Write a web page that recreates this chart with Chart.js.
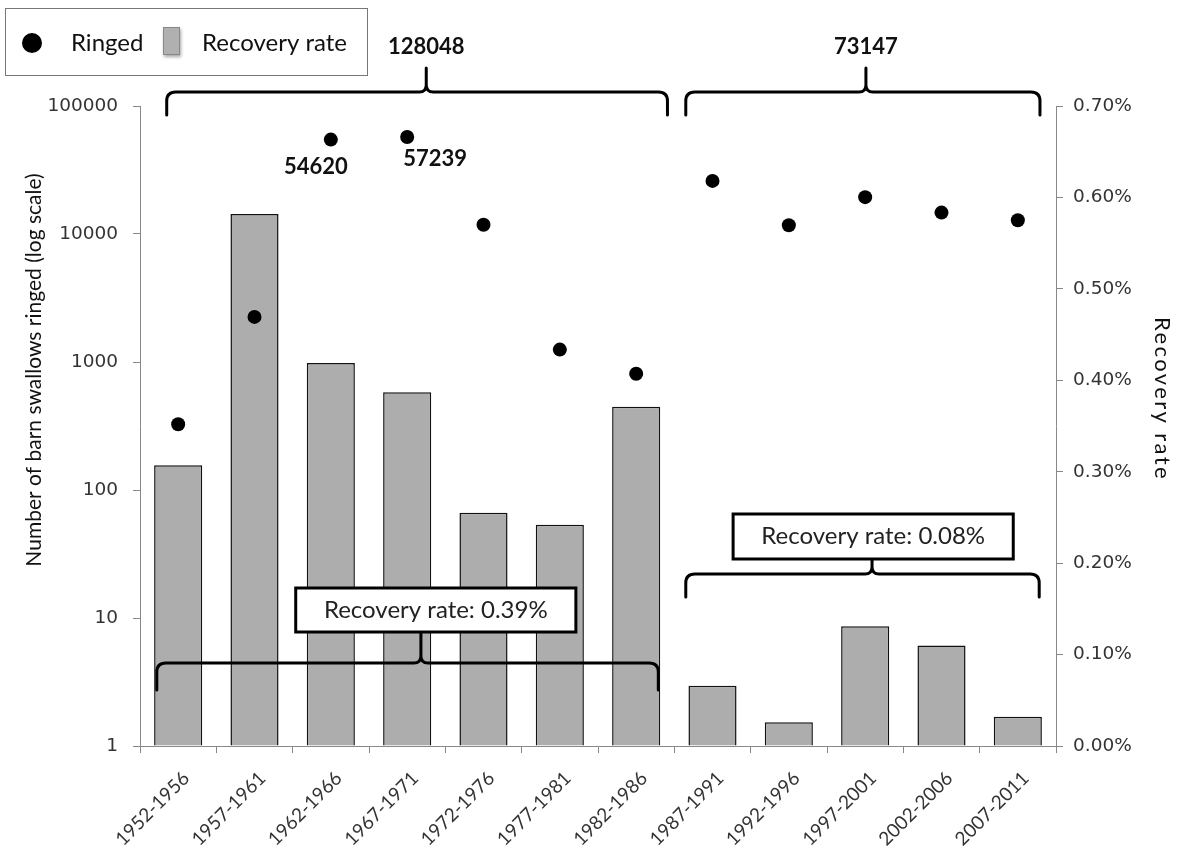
<!DOCTYPE html>
<html>
<head>
<meta charset="utf-8">
<script src="https://cdn.jsdelivr.net/npm/chart.js@4.4.1/dist/chart.umd.min.js"></script>
<style>
html,body{margin:0;padding:0;background:#ffffff;}
#wrap{width:1187px;height:852px;position:relative;}
</style>
</head>
<body>
<div id="wrap"><canvas id="c" width="1187" height="852"></canvas></div>
<script>
// ---- data ----
const categories = ['1952-1956','1957-1961','1962-1966','1967-1971','1972-1976','1977-1981','1982-1986','1987-1991','1992-1996','1997-2001','2002-2006','2007-2011'];
const ringed = [326, 2250, 54620, 57239, 11800, 1250, 810, 26000, 11700, 19400, 14700, 12800];
const recoveryRate = [0.307, 0.582, 0.419, 0.387, 0.255, 0.242, 0.371, 0.066, 0.026, 0.131, 0.110, 0.032]; // percent
const ringedTicks = [1, 10, 100, 1000, 10000, 100000];
const rateTicks = [0, 0.1, 0.2, 0.3, 0.4, 0.5, 0.6, 0.7];
const periodTotals = ['128048', '73147'];
const periodRates = ['Recovery rate: 0.39%', 'Recovery rate: 0.08%'];
const labelledPoints = [2, 3];

const FONT = 'Lato';
const TICKFONT = 'DejaVu Sans';

function drawBrace(ctx, x0, x1, tipX, yLine, yEnd, yTip) {
  const r = 9, r2 = 7;
  ctx.beginPath();
  ctx.moveTo(x0, yEnd);
  ctx.lineTo(x0, yLine + r);
  ctx.quadraticCurveTo(x0, yLine, x0 + r, yLine);
  ctx.lineTo(tipX - r2, yLine);
  ctx.quadraticCurveTo(tipX, yLine, tipX, yLine - r2);
  ctx.lineTo(tipX, yTip);
  ctx.moveTo(tipX, yLine - r2);
  ctx.quadraticCurveTo(tipX, yLine, tipX + r2, yLine);
  ctx.lineTo(x1 - r, yLine);
  ctx.quadraticCurveTo(x1, yLine, x1, yLine + r);
  ctx.lineTo(x1, yEnd);
  ctx.stroke();
}

const annotations = {
  id: 'annotations',
  afterDatasetsDraw(chart) {
    const ctx = chart.ctx;
    const xs = chart.scales.x, ys = chart.scales.y;
    const {top, bottom} = chart.chartArea;
    const x0p = xs.getPixelForValue(0);
    const w = xs.getPixelForValue(1) - x0p;
    const fx = f => x0p + f * w;
    ctx.save();
    ctx.strokeStyle = '#000';
    ctx.lineWidth = 3;
    ctx.lineCap = 'round';
    ctx.lineJoin = 'round';
    // top braces
    drawBrace(ctx, fx(-0.15), fx(6.41), fx(3.25), top - 14, top + 9, top - 38);
    drawBrace(ctx, fx(6.65), fx(11.29), fx(9.01), top - 14, top + 9, top - 38);
    // bottom braces
    drawBrace(ctx, fx(-0.28), fx(6.29), fx(3.18), bottom - 83, bottom - 56, bottom - 114);
    drawBrace(ctx, fx(6.65), fx(11.28), fx(9.09), bottom - 172, bottom - 149, bottom - 187);
    // boxes
    const boxes = [
      [fx(1.54), fx(5.21), bottom - 158, bottom - 114, periodRates[0]],
      [fx(7.27), fx(10.94), bottom - 232, bottom - 187, periodRates[1]]
    ];
    boxes.forEach(([bx0, bx1, by0, by1, txt]) => {
      ctx.fillStyle = '#fff';
      ctx.fillRect(bx0, by0, bx1 - bx0, by1 - by0);
      ctx.lineCap = 'butt';
      ctx.lineJoin = 'miter';
      ctx.strokeRect(bx0, by0, bx1 - bx0, by1 - by0);
      ctx.fillStyle = '#222';
      ctx.font = '24px ' + FONT;
      ctx.textAlign = 'center';
      ctx.textBaseline = 'middle';
      ctx.fillText(txt, (bx0 + bx1) / 2, (by0 + by1) / 2);
    });
    // totals
    ctx.fillStyle = '#111';
    ctx.font = 'bold 22px ' + FONT;
    ctx.textAlign = 'center';
    ctx.textBaseline = 'middle';
    ctx.fillText(periodTotals[0], fx(3.25), top - 59);
    ctx.fillText(periodTotals[1], fx(9.01), top - 59);
    // point labels
    const offs = [[-15, 27], [28, 22]];
    labelledPoints.forEach((i, k) => {
      ctx.fillText(String(ringed[i]), xs.getPixelForValue(i) + offs[k][0], ys.getPixelForValue(ringed[i]) + offs[k][1]);
    });
    ctx.restore();
  },
  afterDraw(chart) {
    const ctx = chart.ctx;
    ctx.save();
    // legend
    ctx.strokeStyle = '#777';
    ctx.lineWidth = 1;
    ctx.strokeRect(5.5, 8.5, 362, 67);
    ctx.fillStyle = '#000';
    ctx.beginPath();
    ctx.arc(32, 43, 10, 0, Math.PI * 2);
    ctx.fill();
    ctx.font = '24px ' + FONT;
    ctx.textAlign = 'left';
    ctx.textBaseline = 'middle';
    ctx.fillStyle = '#111';
    ctx.fillText('Ringed', 71, 43);
    ctx.save();
    ctx.shadowColor = 'rgba(0,0,0,0.35)';
    ctx.shadowBlur = 3;
    ctx.shadowOffsetX = 1;
    ctx.shadowOffsetY = 2;
    ctx.fillStyle = '#b0b0b0';
    ctx.fillRect(163, 27, 17, 28);
    ctx.restore();
    ctx.strokeStyle = '#888';
    ctx.strokeRect(163.5, 27.5, 16, 27);
    ctx.fillStyle = '#111';
    ctx.fillText('Recovery rate', 202, 43);
    // axis titles
    ctx.save();
    ctx.translate(34, 370);
    ctx.rotate(-Math.PI / 2);
    ctx.font = '21px ' + FONT;
    ctx.textAlign = 'center';
    ctx.textBaseline = 'middle';
    ctx.fillStyle = '#111';
    ctx.fillText(chart.options.scales.y.title.text, 0, 0);
    ctx.restore();
    ctx.save();
    ctx.translate(1162, 399);
    ctx.rotate(Math.PI / 2);
    ctx.font = '22px ' + FONT;
    try { ctx.letterSpacing = '2.4px'; } catch (e) {}
    ctx.textAlign = 'center';
    ctx.textBaseline = 'middle';
    ctx.fillStyle = '#111';
    ctx.fillText(chart.options.scales.y1.title.text, 0, 0);
    ctx.restore();
    ctx.restore();
  }
};

new Chart(document.getElementById('c'), {
  data: {
    labels: categories,
    datasets: [
      {
        type: 'line',
        label: 'Ringed',
        data: ringed,
        yAxisID: 'y',
        showLine: false,
        pointRadius: 7,
        pointHoverRadius: 7,
        pointBackgroundColor: '#000',
        pointBorderWidth: 0,
        borderColor: '#000',
        backgroundColor: '#000',
        order: 0
      },
      {
        type: 'bar',
        label: 'Recovery rate',
        data: recoveryRate,
        yAxisID: 'y1',
        backgroundColor: '#adadad',
        borderColor: '#111',
        borderWidth: 1.5,
        barPercentage: 0.63,
        categoryPercentage: 1.0,
        order: 1
      }
    ]
  },
  options: {
    responsive: false,
    devicePixelRatio: 1,
    animation: false,
    layout: { padding: { top: 106, left: 0, right: 0, bottom: 0 } },
    plugins: { legend: { display: false }, tooltip: { enabled: false } },
    scales: {
      x: {
        type: 'category',
        offset: true,
        grid: { display: true, drawOnChartArea: false, drawTicks: true, tickLength: 7, color: '#888', offset: true },
        border: { display: true, color: '#888', width: 1 },
        ticks: { minRotation: 45, maxRotation: 45, autoSkip: false, padding: 14, labelOffset: 8, color: '#333', font: { family: FONT, size: 19 } },
        afterFit: s => { s.height = 106; }
      },
      y: {
        type: 'logarithmic',
        position: 'left',
        min: 1,
        max: 100000,
        title: { display: false, text: 'Number of barn swallows ringed (log scale)' },
        afterBuildTicks: s => { s.ticks = ringedTicks.map(v => ({ value: v })); },
        ticks: { callback: v => String(v), padding: 15, color: '#333', font: { family: TICKFONT, size: 18.5 } },
        grid: { display: true, drawOnChartArea: false, drawTicks: true, tickLength: 7, color: '#888' },
        border: { display: true, color: '#888', width: 1 },
        afterFit: s => { s.width = 140; }
      },
      y1: {
        type: 'linear',
        position: 'right',
        min: 0,
        max: 0.7,
        title: { display: false, text: 'Recovery rate' },
        afterBuildTicks: s => { s.ticks = rateTicks.map(v => ({ value: v })); },
        ticks: { callback: v => v.toFixed(2) + '%', padding: 10, color: '#333', font: { family: TICKFONT, size: 18.5 } },
        grid: { display: true, drawOnChartArea: false, drawTicks: true, tickLength: 7, color: '#888' },
        border: { display: true, color: '#888', width: 1 },
        afterFit: s => { s.width = 131; }
      }
    }
  },
  plugins: [annotations]
});
</script>
</body>
</html>
